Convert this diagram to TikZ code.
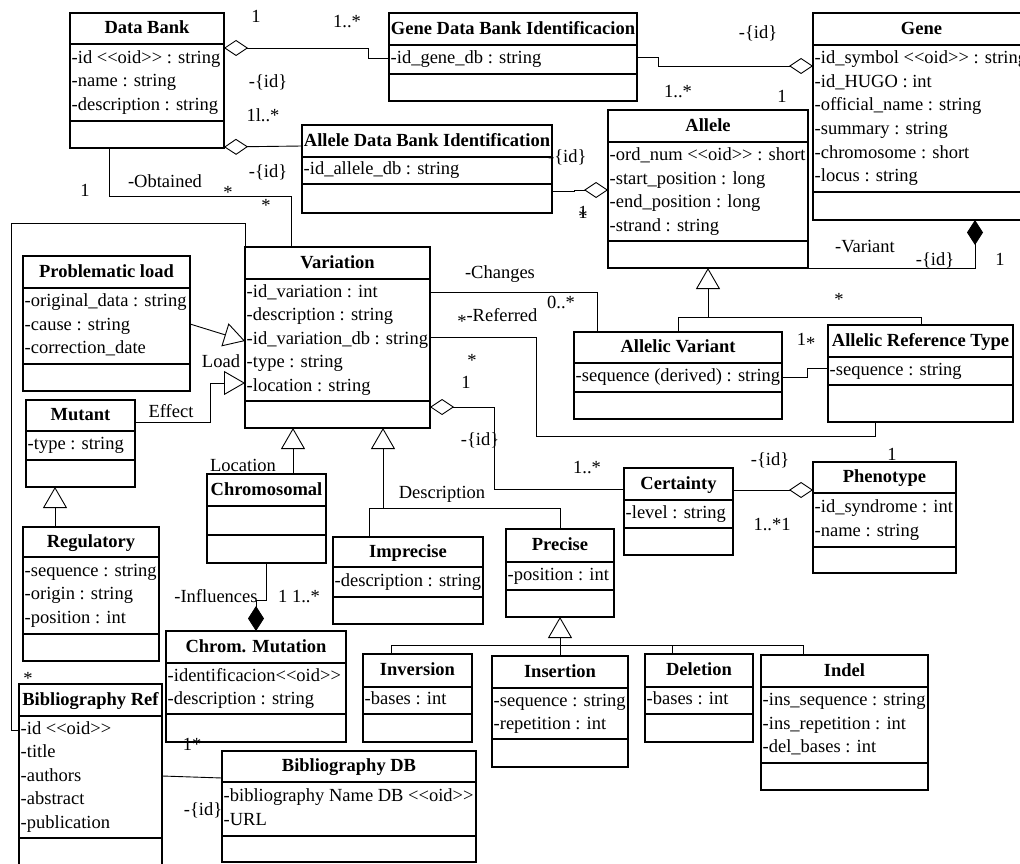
\documentclass[tikz,border=0pt]{standalone}
\usepackage{fontspec}
\setmainfont{Liberation Serif}
\usetikzlibrary{arrows.meta}
\newcommand\oidtag{<\kern0pt<oid>\kern0pt>}
\tikzset{
 classbox/.style={draw, line width=1.3pt, anchor=north west, inner sep=0pt, outer sep=0pt},
 sepline/.style={line width=1.3pt},
 ctitle/.style={font=\fontsize{18.5}{21}\selectfont\bfseries, inner sep=0pt, text height=13pt, text depth=4.5pt},
 attr/.style={font=\fontsize{18.5}{21}\selectfont, anchor=west, inner sep=1.5pt, text height=13pt, text depth=4.5pt},
 lab/.style={font=\fontsize{18.5}{21}\selectfont, anchor=base, inner sep=0pt},
 conn/.style={line width=0.9pt},
 gen/.style={conn, -{Triangle[open, length=21pt, width=24pt]}},
 agg/.style={conn, {Diamond[open, length=24pt, width=16pt]}-},
 comp/.style={conn, {Diamond[length=25pt, width=16pt]}-},
}
\newcommand\umlclass[9]{%
  \node[classbox, minimum width={#4-#2}, minimum height={#7-#3}] (#1) at (#2,#3) {};
  \draw[sepline] (#2,#5) -- (#4,#5) (#2,#6) -- (#4,#6);
  \node[ctitle] at ({(#2+#4)/2},{(#3+#5)/2+1}) {#8};
  \gdef\attrn{0}%
  \foreach \a in {#9} {\pgfmathtruncatemacro\tmpn{\attrn+1}\xdef\attrn{\tmpn}}%
  \foreach \a [count=\i from 0] in {#9} {\node[attr] at (#2,{(#5+#6)/2+(\i-(\attrn-1)/2)*23.5}) {\a};}%
}
\begin{document}
\begin{tikzpicture}[x=1pt, y=-1pt]
\useasboundingbox (0,0) rectangle (1020,864);
\fill[white] (0,0) rectangle (1020,864);
\clip (0,0) rectangle (1020,864);
% classes
\umlclass{databank}{70}{13}{224}{44}{121}{148}{Data Bank}{-id \oidtag{} : string, -name : string, -description : string}
\umlclass{gdbi}{389}{13}{637}{45}{74}{101}{Gene Data Bank Identificacion}{-id\_gene\_db : string}
\umlclass{gene}{813}{13}{1030}{45}{192}{220}{Gene}{-id\_symbol \oidtag{} : string, -id\_HUGO : int, -official\_name : string, -summary : string, -chromosome : short, -locus : string}
\umlclass{allele}{608}{110}{808}{142}{241}{268}{Allele}{-ord\_num \oidtag{} : short, -start\_position : long, -end\_position : long, -strand : string}
\umlclass{adbi}{302}{125}{552}{157}{184}{213}{Allele Data Bank Identification}{-id\_allele\_db : string}
\umlclass{variation}{245}{247}{430}{279}{401}{428}{Variation}{-id\_variation : int, -description : string, -id\_variation\_db : string, -type : string, -location : string}
\umlclass{probload}{23}{256}{190}{288}{364}{391}{Problematic load}{-original\_data : string, -cause : string, -correction\_date}
\umlclass{mutant}{26}{400}{135}{431}{460}{487}{Mutant}{-type : string}
\umlclass{regulatory}{23}{527}{159}{557}{634}{661}{Regulatory}{-sequence : string, -origin : string, -position : int}
\umlclass{chromosomal}{207}{474}{326}{506}{535}{563}{Chromosomal}{}
\umlclass{chrommut}{166}{631}{346}{663}{714}{742}{Chrom. Mutation}{-identificacion\oidtag, -description : string}
\umlclass{imprecise}{333}{537}{483}{567}{597}{624}{Imprecise}{-description : string}
\umlclass{precise}{506}{529}{614}{562}{590}{617}{Precise}{-position : int}
\umlclass{allelicvariant}{574}{332}{782}{363}{392}{419}{Allelic Variant}{-sequence (derived) : string}
\umlclass{art}{828}{325}{1013}{357}{385}{422}{Allelic Reference Type}{-sequence : string}
\umlclass{certainty}{624}{468}{733}{500}{528}{555}{Certainty}{-level : string}
\umlclass{phenotype}{813}{462}{956}{493}{547}{573}{Phenotype}{-id\_syndrome : int, -name : string}
\umlclass{inversion}{363}{654}{472}{687}{714}{742}{Inversion}{-bases : int}
\umlclass{insertion}{492}{656}{628}{688}{739}{767}{Insertion}{-sequence : string, -repetition : int}
\umlclass{deletion}{645}{654}{753}{687}{714}{742}{Deletion}{-bases : int}
\umlclass{indel}{761}{655}{928}{687}{763}{790}{Indel}{-ins\_sequence : string, -ins\_repetition : int, -del\_bases : int}
\umlclass{bibref}{19}{684}{162}{716}{838}{870}{Bibliography Ref}{-id \oidtag, -title, -authors, -abstract, -publication}
\umlclass{bibdb}{222}{751}{476}{782}{836}{862}{Bibliography DB}{-bibliography Name DB \oidtag, -URL}
% connectors
\draw[agg] (databank.east |- 0,48) -- (368,48) -- (368,58) -- (gdbi.west |- 0,58);
\draw[agg] (gene.west |- 0,66) -- (658,66) -- (658,57) -- (gdbi.east |- 0,57);
\draw[agg] (databank.east |- 0,147) -- (adbi.west |- 0,146);
\draw[agg] (allele.west |- 0,190) -- (574,190) -- (574,191) -- (adbi.east |- 0,191);
\draw[conn] (databank.south -| 109,0) -- (109,196) -- (291,196) -- (variation.north -| 291,0);
\draw[conn] (variation.north west) -- (245,223) -- (11,223) -- (11,730) -- (bibref.west |- 0,730);
\draw[gen] (probload.east |- 0,324) -- (variation.west |- 0,341);
\draw[gen] (mutant.east |- 0,422) -- (210,422) -- (210,383) -- (variation.west |- 0,383);
\draw[gen] (chromosomal.north -| 293,0) -- (variation.south -| 293,0);
\draw[gen] (383,508) -- (variation.south -| 383,0);
\draw[conn] (imprecise.north -| 369,0) -- (369,508) -- (560,508) -- (precise.north);
\draw[comp] (chrommut.north) -- (256,600) -- (266,600) -- (chromosomal.south -| 266,0);
\draw[conn] (variation.east |- 0,292) -- (597,292) -- (allelicvariant.north -| 597,0);
\draw[conn] (variation.east |- 0,337) -- (536,337) -- (536,436) -- (875,436) -- (art.south -| 875,0);
\draw[agg] (variation.east |- 0,407) -- (494,407) -- (494,489) -- (certainty.west |- 0,489);
\draw[agg] (phenotype.west |- 0,490) -- (certainty.east |- 0,490);
\draw[comp] (gene.south -| 975,0) -- (975,268) -- (allele.south east);
\draw[gen] (708,317) -- (allele.south);
\draw[conn] (allelicvariant.north -| 678,0) -- (678,317) -- (921,317) -- (art.north -| 921,0);
\draw[conn] (allelicvariant.east |- 0,377) -- (807,377) -- (807,368) -- (art.west |- 0,368);
\draw[gen] (regulatory.north -| 55,0) -- (mutant.south -| 55,0);
\draw[gen] (560,645) -- (precise.south);
\draw[conn] (inversion.north -| 391,0) -- (391,645) -- (803,645) -- (indel.north -| 803,0);
\draw[conn] (insertion.north) -- (560,645);
\draw[conn] (deletion.north -| 672,0) -- (672,645);
\draw[conn] (bibref.east |- 0,776) -- (bibdb.west |- 0,778);
% labels
\node[lab] (l1) at (256,23) {1};
\node[lab] (l2) at (347,28) {1..*};
\node[lab] (l3) at (268,88) {-\{id\}};
\node[lab] (l4) at (263,122) {1l..*};
\node[lab] (l5) at (268,178) {-\{id\}};
\node[lab] (l6) at (85,196) {1};
\node[lab] (l7) at (165,187) {-Obtained};
\node[lab] (l8) at (228,198) {*};
\node[lab] (l9) at (266,211) {*};
\node[lab] (l10) at (758,39) {-\{id\}};
\node[lab] (l11) at (678,98) {1..*};
\node[lab] (l12) at (782,103) {1};
\node[lab, anchor=base west] (l13) at (548,162) {-\{id\}};
\node[lab] (l14) at (583,218) {1};
\node[lab] (l15) at (583,222) {*};
\node[lab] (l16) at (865,252) {-Variant};
\node[lab] (l17) at (935,265) {-\{id\}};
\node[lab] (l18) at (1000,265) {1};
\node[lab] (l19) at (500,278) {-Changes};
\node[lab] (l20) at (561,308) {0..*};
\node[lab] (l21) at (462,327) {*};
\node[lab] (l22) at (502,321) {-Referred};
\node[lab] (l23) at (472,366) {*};
\node[lab] (l24) at (466,388) {1};
\node[lab] (l25) at (480,445) {-\{id\}};
\node[lab] (l26) at (587,473) {1..*};
\node[lab] (l27) at (442,498) {Description};
\node[lab] (l28) at (839,305) {*};
\node[lab] (l29) at (806,345) {1\raisebox{-4pt}{*}};
\node[lab] (l30) at (770,465) {-\{id\}};
\node[lab] (l31) at (892,460) {1};
\node[lab] (l32) at (772,530) {1..*1};
\node[lab] (l33) at (243,471) {Location};
\node[lab] (l34) at (221,367) {Load};
\node[lab] (l35) at (171,417) {Effect};
\node[lab] (l36) at (216,602) {-Influences};
\node[lab] (l37) at (299,602) {1 1..*};
\node[lab] (l38) at (28,684) {*};
\node[lab] (l39) at (192,750) {1*};
\node[lab] (l40) at (203,815) {-\{id\}};
\end{tikzpicture}
\end{document}
